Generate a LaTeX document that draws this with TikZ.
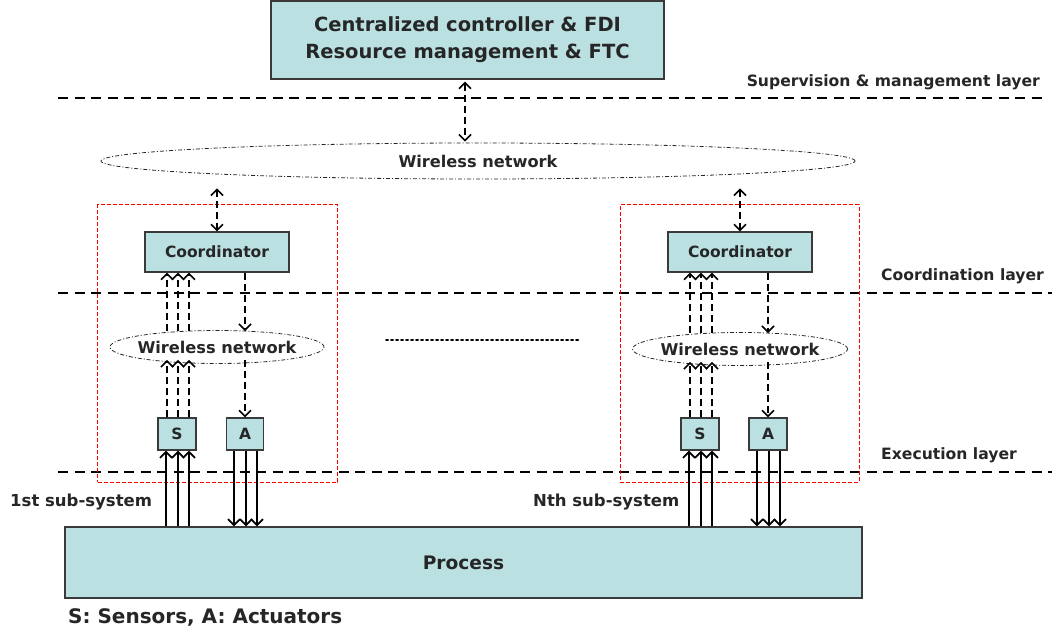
\documentclass[tikz,border=0pt]{standalone}
\usepackage{fontspec}
\setmainfont{DejaVu Sans}
\usetikzlibrary{arrows.meta,shapes.geometric,calc}
\definecolor{boxfill}{HTML}{BAE0E1}
\definecolor{boxline}{HTML}{3A3A3A}
\definecolor{ink}{HTML}{262626}
\tikzset{
  blk/.style={draw=boxline, fill=boxfill, line width=1.2pt, inner sep=0pt, text=ink, font=\bfseries\fontsize{15.5}{18}\selectfont},
  net/.style={ellipse, draw=ink, line width=0.8pt, dash pattern=on 4pt off 2pt on 1pt off 2pt, inner ysep=0pt, inner xsep=-15pt, text=ink, font=\bfseries\fontsize{16.2}{19}\selectfont},
  layerline/.style={draw=black, line width=1.8pt, dash pattern=on 10pt off 6.5pt},
  layerlabel/.style={text=ink, font=\bfseries\fontsize{15.6}{18}\selectfont, inner sep=0pt},
  group/.style={draw=red, line width=1pt, dash pattern=on 4pt off 2pt},
  wlink/.style={black, line width=1.6pt, dash pattern=on 7pt off 4pt, arrows={-Straight Barb[length=6pt,width=12pt]}},
  wboth/.style={black, line width=1.6pt, dash pattern=on 7pt off 4pt, arrows={Straight Barb[length=6pt,width=12pt]-Straight Barb[length=6pt,width=12pt]}},
  hard/.style={black, line width=1.8pt, arrows={-Straight Barb[length=6pt,width=12pt]}},
}
\begin{document}
\begin{tikzpicture}[x=1pt,y=-1pt]
\useasboundingbox (0,0) rectangle (1056,636);

% supervision level
\node[blk, minimum width=393pt, minimum height=78pt, align=center,
      font=\bfseries\fontsize{19.5}{27}\selectfont] (top) at (467.5,40)
  {Centralized controller \& FDI\\Resource management \& FTC};

% layer separators and their labels
\coordinate (s0) at (58,98);   \coordinate (s1) at (1042,98);
\coordinate (c0) at (58,293);  \coordinate (c1) at (1052,293);
\coordinate (e0) at (58,472);  \coordinate (e1) at (1052,472);
\draw[layerline] (s0) -- (s1);
\draw[layerline] (c0) -- (c1);
\draw[layerline] (e0) -- (e1);
\node[layerlabel, anchor=east] (lsup) at (1040,82) {Supervision \& management layer};
\node[layerlabel, anchor=west] (lcoo) at (881,276) {Coordination layer};
\node[layerlabel, anchor=west] (lexe) at (881,455) {Execution layer};

% global wireless network
\node[net, minimum width=754pt, minimum height=36pt] (W) at (478,161) {Wireless network};

% sub-system groups
\node[group, minimum width=240pt, minimum height=277pt] (G1) at (217.5,343.5) {};
\node[group, minimum width=239pt, minimum height=277pt] (GN) at (739.5,343.5) {};

% coordinators
\node[blk, minimum width=144pt, minimum height=40pt] (C1) at (217,252) {Coordinator};
\node[blk, minimum width=144pt, minimum height=40pt] (CN) at (740,252) {Coordinator};

% local wireless networks
\node[net, minimum width=214pt, minimum height=33pt] (W1) at (217,347) {Wireless network};
\node[net, minimum width=215pt, minimum height=33pt] (WN) at (740,349) {Wireless network};

% sensors and actuators
\node[blk, minimum width=38pt, minimum height=32pt] (S1) at (177,434) {S};
\node[blk, minimum width=37pt, minimum height=32pt] (A1) at (245,434) {A};
\node[blk, minimum width=38pt, minimum height=32pt] (SN) at (700,434) {S};
\node[blk, minimum width=38pt, minimum height=32pt] (AN) at (768,434) {A};

% process
\node[blk, minimum width=797pt, minimum height=71pt, font=\bfseries\fontsize{18.6}{22}\selectfont] (P) at (463.5,562.5) {Process};

% texts
\node[layerlabel, anchor=west, font=\bfseries\fontsize{16.5}{19}\selectfont] (t1) at (10,502) {1st sub-system};
\node[layerlabel, anchor=west, font=\bfseries\fontsize{16.5}{19}\selectfont] (tN) at (533,502) {Nth sub-system};
\node[layerlabel, anchor=west, font=\bfseries\fontsize{20}{23}\selectfont] (leg) at (68,617) {S: Sensors, A: Actuators};

% more sub-systems in between
\coordinate (d0) at (386,340); \coordinate (d1) at (580,340);
\draw[black, line width=2pt, dash pattern=on 2pt off 3pt, line cap=round] (d0) -- (d1);

% supervision <-> global network
\draw[wboth] ([yshift=-2pt]top.south -| 465,0) -- ([yshift=1pt]W.north -| 465,0);
% global network <-> coordinators
\draw[wboth] ([yshift=-9pt]W.south -| C1.north) -- (C1.north);
\draw[wboth] ([yshift=-9pt]W.south -| CN.north) -- (CN.north);

% sensor readings: S -> local network -> coordinator
\foreach \s/\w/\c in {S1/W1/C1, SN/WN/CN}{
  \foreach \dx in {-10,1,12}{
    \draw[wlink] ([xshift=\dx pt]\s.north) -- ([xshift=\dx pt, yshift=4pt]\s.north |- \w.south);
    \draw[wlink] ([xshift=\dx pt, yshift=-1pt]\s.north |- \w.north) -- ([xshift=\dx pt]\s.north |- \c.south);
  }
}
% commands: coordinator -> local network -> A
\foreach \a/\w/\c in {A1/W1/C1, AN/WN/CN}{
  \draw[wlink] (\a.north |- \c.south) -- ([yshift=-1pt]\a.north |- \w.north);
  \draw[wlink] ([yshift=4pt]\a.north |- \w.south) -- (\a.north);
}

% physical connections with the process
\foreach \s in {S1,SN}{
  \foreach \dx in {-11,1,12}{
    \draw[hard] ([xshift=\dx pt]\s.south |- P.north) -- ([xshift=\dx pt]\s.south);
  }
}
\foreach \a in {A1,AN}{
  \foreach \dx in {-11,1,12}{
    \draw[hard] ([xshift=\dx pt]\a.south) -- ([xshift=\dx pt]\a.south |- P.north);
  }
}
\end{tikzpicture}
\end{document}
